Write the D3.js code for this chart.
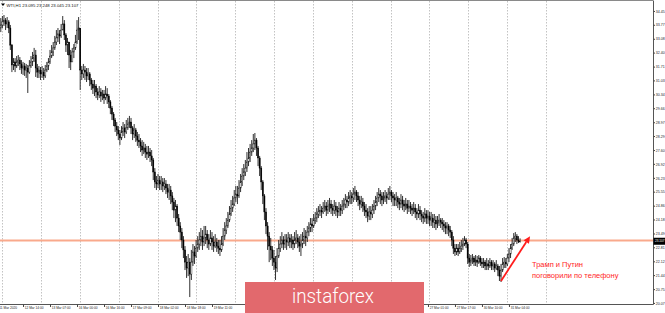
<!DOCTYPE html>
<html>
<head>
<meta charset="utf-8">
<script src="https://cdnjs.cloudflare.com/ajax/libs/d3/7.8.5/d3.min.js"></script>
<style>
  body { margin: 0; background: #fff; }
  svg { display: block; }
</style>
</head>
<body>
<div id="chart"></div>
<script>
// WTI H1 closes / highs / lows (one value per hourly bar)
var closes = [
  33.76,33.91,34.00,33.81,33.91,33.61,32.77,31.79,31.94,31.74,
  31.94,32.03,31.84,31.64,31.74,31.54,31.64,31.44,31.74,31.94,
  32.13,32.28,31.64,31.44,31.54,31.35,31.44,31.25,31.54,31.74,
  31.94,32.23,32.43,32.63,32.92,33.12,33.32,33.22,33.51,33.81,
  33.27,32.77,32.92,32.28,31.94,32.43,32.63,32.92,33.51,33.61,
  31.54,31.35,31.54,31.44,31.25,31.35,31.05,30.85,30.65,30.75,
  30.46,30.31,30.46,30.26,30.36,30.16,30.36,30.26,29.97,29.67,
  29.37,29.08,28.78,28.59,28.39,28.19,28.49,28.69,28.49,28.69,
  28.88,28.98,28.69,28.39,28.59,28.29,28.09,28.00,27.80,27.60,
  27.70,27.50,27.40,27.50,27.31,27.11,26.52,26.03,25.93,26.12,
  25.93,26.03,25.83,25.93,25.73,25.53,25.63,25.34,25.04,24.64,
  24.84,24.25,23.86,23.56,23.17,22.68,22.08,21.79,22.08,21.49,
  22.08,22.58,22.38,22.77,22.97,23.17,23.36,23.07,23.27,23.46,
  23.17,22.97,23.27,23.07,22.87,23.07,22.87,22.77,22.68,22.97,
  23.36,23.66,23.86,24.15,24.45,24.74,24.94,25.24,25.43,25.34,
  25.73,26.03,26.32,26.52,26.71,27.01,27.21,27.50,27.70,27.90,
  28.09,27.70,27.21,26.71,26.03,25.34,24.55,23.86,23.36,22.87,
  22.68,22.28,22.08,21.79,22.38,22.77,22.97,23.17,22.97,23.17,
  23.07,23.27,23.07,23.17,22.97,23.17,23.27,23.07,22.87,22.97,
  23.17,23.36,23.27,23.56,23.76,23.96,23.86,24.15,24.25,24.45,
  24.55,24.64,24.55,24.74,24.84,24.64,24.84,24.94,24.74,24.64,
  24.84,24.64,24.55,24.74,24.64,24.84,24.94,25.14,25.04,25.24,
  25.34,25.24,25.43,25.53,25.34,25.14,24.94,25.04,24.84,24.64,
  24.55,24.35,24.55,24.45,24.64,24.84,25.04,25.24,25.43,25.34,
  25.14,25.24,25.34,25.24,25.43,25.53,25.34,25.24,25.14,25.24,
  25.04,24.94,25.14,24.94,24.84,24.94,24.74,24.84,24.74,24.64,
  24.74,24.55,24.45,24.64,24.45,24.35,24.25,24.45,24.25,24.35,
  24.15,24.25,24.05,24.15,23.96,24.05,24.15,24.05,23.96,23.86,
  23.76,23.86,23.66,23.56,23.17,22.77,22.58,22.77,22.58,22.77,
  22.87,22.97,23.17,22.97,22.28,22.08,22.18,22.28,22.08,22.18,
  22.08,22.28,22.08,21.99,22.08,21.89,21.99,21.89,22.08,21.89,
  21.99,21.79,21.89,21.69,21.39,21.69,21.99,22.08,21.99,22.28,
  22.48,22.77,22.97,23.27,23.36,23.17,23.095,23.107
];
var highs = [
  34.10,34.20,34.25,34.10,34.15,34.00,33.76,32.82,32.13,32.13,
  32.23,32.28,32.18,32.03,31.94,31.89,31.84,31.79,32.03,32.23,
  32.43,32.63,32.53,31.84,31.74,31.69,31.74,31.64,31.79,31.94,
  32.13,32.53,32.77,32.92,33.22,33.51,33.61,33.51,33.81,34.20,
  34.00,33.36,33.12,32.92,32.53,32.63,32.82,33.27,34.00,34.15,
  33.61,31.74,31.84,31.74,31.64,31.64,31.44,31.15,31.05,31.05,
  30.85,30.65,30.75,30.65,30.56,30.56,30.75,30.65,30.36,30.06,
  29.77,29.47,29.18,28.98,28.78,28.59,28.78,28.98,28.88,29.08,
  29.18,29.28,29.18,28.78,28.88,28.69,28.49,28.39,28.19,28.09,
  28.00,27.90,27.80,27.80,27.70,27.60,27.21,26.71,26.32,26.42,
  26.32,26.32,26.22,26.22,26.12,25.93,25.93,25.83,25.53,25.24,
  25.14,24.94,24.45,24.05,23.76,23.36,22.87,22.38,22.48,22.28,
  22.68,22.97,22.87,23.17,23.36,23.56,23.76,23.66,23.86,23.86,
  23.66,23.46,23.66,23.56,23.36,23.46,23.27,23.17,23.17,23.36,
  23.76,24.05,24.25,24.55,24.84,25.14,25.34,25.63,25.83,25.83,
  26.12,26.42,26.71,26.91,27.11,27.50,27.70,27.90,28.09,28.39,
  28.44,28.19,27.80,27.31,26.81,26.12,25.43,24.74,24.05,23.56,
  23.27,22.87,22.68,22.38,22.77,23.17,23.36,23.56,23.36,23.46,
  23.46,23.56,23.46,23.46,23.36,23.56,23.66,23.46,23.36,23.46,
  23.56,23.76,23.66,23.86,24.05,24.25,24.25,24.45,24.55,24.74,
  24.84,24.94,24.84,25.04,25.14,25.04,25.14,25.24,25.14,24.94,
  25.14,25.04,24.84,25.04,24.94,25.14,25.24,25.43,25.34,25.53,
  25.63,25.53,25.73,25.83,25.63,25.53,25.34,25.34,25.24,25.04,
  24.94,24.74,24.84,24.84,24.94,25.14,25.34,25.53,25.73,25.63,
  25.53,25.53,25.63,25.53,25.73,25.83,25.63,25.53,25.43,25.53,
  25.34,25.24,25.43,25.34,25.14,25.24,25.14,25.14,25.04,24.94,
  25.04,24.94,24.74,24.94,24.84,24.64,24.55,24.74,24.64,24.64,
  24.55,24.55,24.45,24.45,24.35,24.35,24.45,24.25,24.25,24.15,
  24.05,24.05,23.96,23.86,23.66,23.36,22.97,22.97,22.97,23.07,
  23.17,23.27,23.36,23.27,23.07,22.48,22.43,22.48,22.38,22.43,
  22.38,22.43,22.38,22.28,22.28,22.18,22.28,22.18,22.28,22.18,
  22.18,22.08,22.18,21.99,21.89,21.99,22.28,22.33,22.28,22.48,
  22.77,22.97,23.27,23.51,23.56,23.46,23.36,23.248
];
var lows = [
  33.41,33.61,33.71,33.51,33.61,33.36,32.53,31.44,31.54,31.44,
  31.64,31.74,31.54,31.35,31.30,31.25,31.15,30.41,31.35,31.64,
  31.74,31.94,31.20,31.15,31.15,31.05,31.15,31.05,31.15,31.44,
  31.54,31.84,32.13,32.23,32.53,32.77,32.92,32.82,33.12,33.51,
  33.02,32.43,32.28,31.64,31.54,32.03,32.13,32.53,32.82,33.02,
  30.56,31.05,31.15,31.05,30.95,31.05,30.75,30.56,30.36,30.26,
  30.16,30.06,30.16,29.97,30.06,29.87,30.06,29.87,29.67,29.37,
  29.08,28.78,28.49,28.29,28.09,27.85,28.09,28.29,28.19,28.39,
  28.59,28.69,28.39,28.09,28.19,28.00,27.80,27.70,27.50,27.31,
  27.40,27.21,27.11,27.21,27.01,26.81,26.12,25.73,25.63,25.73,
  25.63,25.63,25.53,25.63,25.43,25.24,25.14,24.94,24.64,24.25,
  24.05,23.86,23.56,23.17,22.77,22.28,21.69,21.30,21.39,20.36,
  21.20,21.89,21.99,22.28,22.58,22.68,22.87,22.68,22.87,22.97,
  22.77,22.68,22.87,22.68,22.58,22.77,22.58,22.48,22.38,22.58,
  22.87,23.17,23.46,23.76,24.05,24.35,24.55,24.84,25.04,24.94,
  25.24,25.53,25.83,26.12,26.32,26.52,26.81,27.01,27.31,27.50,
  27.60,27.31,26.81,26.32,25.63,24.94,24.15,23.46,22.68,22.08,
  22.18,21.89,21.69,21.20,21.59,22.28,22.58,22.77,22.68,22.77,
  22.68,22.87,22.77,22.77,22.68,22.77,22.97,22.77,22.58,22.38,
  22.77,22.97,22.87,23.07,23.36,23.56,23.56,23.76,23.96,24.05,
  24.25,24.35,24.25,24.45,24.55,24.35,24.45,24.55,24.45,24.35,
  24.45,24.35,24.25,24.35,24.35,24.45,24.64,24.74,24.74,24.84,
  24.94,24.94,25.04,25.14,25.04,24.84,24.64,24.74,24.55,24.35,
  24.25,24.05,24.15,24.15,24.25,24.45,24.64,24.84,25.04,24.94,
  24.84,24.94,25.04,24.94,25.14,25.14,25.04,24.84,24.84,24.84,
  24.74,24.64,24.74,24.64,24.55,24.64,24.45,24.55,24.45,24.35,
  24.45,24.25,24.15,24.25,24.15,24.05,23.96,24.05,23.96,23.96,
  23.86,23.86,23.76,23.76,23.66,23.76,23.86,23.76,23.66,23.56,
  23.46,23.46,23.36,23.27,22.87,22.48,22.38,22.43,22.38,22.48,
  22.58,22.68,22.87,22.77,21.99,21.84,21.89,21.99,21.89,21.89,
  21.84,21.99,21.89,21.79,21.79,21.69,21.69,21.69,21.79,21.69,
  21.69,21.59,21.69,21.39,21.15,21.10,21.59,21.79,21.79,21.89,
  22.08,22.28,22.68,22.87,23.07,22.97,23.02,23.045
];
var firstOpen = 33.61;

// price axis labels (right side)
var priceTicks = [34.45,33.77,33.08,32.40,31.71,31.03,30.34,29.66,28.97,28.29,27.60,
                  26.92,26.23,25.55,24.86,24.18,23.49,22.81,22.12,21.44,20.75,20.07];

// time axis labels and the bar each one sits on (the ones under the logo are not shown)
var timeLabels = ["11 Mar 2020","12 Mar 14:00","13 Mar 07:00","16 Mar 00:00","16 Mar 16:00","17 Mar 09:00",
                  "18 Mar 02:00","18 Mar 18:00","19 Mar 11:00","27 Mar 01:00","27 Mar 17:00",
                  "30 Mar 10:00","31 Mar 04:00"];
var timeLabelBars = [-2,14,31,48,65,82,99,116,133,269,286,303,320];

var header = "WTI,H1  23.095 23.248 23.045 23.107";
var levelPrice = 23.15;      // orange horizontal level
var lastPrice = 23.107;
var noteLines = ["Трамп и Путин", "поговорили по телефону"];
var arrowFrom = { bar: 315, price: 21.15 };
var arrowTo = { bar: 333.3, price: 23.36 };

// set the dimensions of the graph
var W = 665, H = 313,
  plotRight = 653,
  plotBottom = 304;

var svg = d3.select("#chart")
  .append("svg")
  .attr("width", W)
  .attr("height", H);

// scales
var x = d3.scaleLinear()
  .domain([0, closes.length - 1])
  .range([0.8, 0.8 + 1.588 * (closes.length - 1)]);

var y = d3.scaleLinear()
  .domain([20.017, 34.99])
  .range([plotBottom, 0]);

// vertical dotted grid
var gridBars = d3.range(15).map(function (k) { return 0.85 + 24.46 * k; });
svg.append("g")
  .selectAll("line")
  .data(gridBars)
  .enter()
  .append("line")
  .attr("x1", function (d) { return Math.round(x(d)) + 0.5; })
  .attr("x2", function (d) { return Math.round(x(d)) + 0.5; })
  .attr("y1", 1)
  .attr("y2", plotBottom)
  .style("stroke", "#b4b4b4")
  .style("stroke-width", 0.8)
  .style("stroke-dasharray", "1.5,1.5");

// orange level line
svg.append("line")
  .attr("x1", 0)
  .attr("x2", plotRight)
  .attr("y1", y(levelPrice))
  .attr("y2", y(levelPrice))
  .style("stroke", "#f9a98c")
  .style("stroke-width", 2);

// build the candles
var bars = closes.map(function (c, i) {
  var o = i === 0 ? firstOpen : closes[i - 1];
  return { i: i, o: o, c: c, h: Math.max(highs[i], o, c), l: Math.min(lows[i], o, c) };
});

var candles = svg.append("g").selectAll("g")
  .data(bars)
  .enter()
  .append("g");

candles.append("line")
  .attr("x1", function (d) { return x(d.i); })
  .attr("x2", function (d) { return x(d.i); })
  .attr("y1", function (d) { return y(d.h); })
  .attr("y2", function (d) { return y(d.l); })
  .style("stroke", "#1a1a1a")
  .style("stroke-width", 0.9);

candles.append("rect")
  .attr("x", function (d) { return x(d.i) - 0.6; })
  .attr("width", 1.2)
  .attr("y", function (d) { return y(Math.max(d.o, d.c)); })
  .attr("height", function (d) { return Math.max(0.6, y(Math.min(d.o, d.c)) - y(Math.max(d.o, d.c))); })
  .style("fill", function (d) { return d.c < d.o ? "#000" : "#fff"; })
  .style("stroke", "#000")
  .style("stroke-width", 0.4);

// frame
svg.append("line").attr("x1", 0).attr("x2", plotRight).attr("y1", 0.5).attr("y2", 0.5)
  .style("stroke", "#8a8a8a").style("stroke-width", 1);

// price axis on the right
var yAxis = svg.append("g")
  .attr("transform", "translate(" + (plotRight + 0.5) + ",0)")
  .call(d3.axisRight(y).tickValues(priceTicks).tickSize(1.5).tickPadding(0.8).tickFormat(d3.format(".2f")));
yAxis.select(".domain").attr("d", "M0,0.5V" + (plotBottom + 0.5)).style("stroke", "#555");
yAxis.selectAll(".tick line").style("stroke", "#444");
yAxis.selectAll("text")
  .style("font-family", "'Liberation Sans', Arial, sans-serif")
  .style("font-size", "3.6px")
  .style("fill", "#222");

// time axis at the bottom
var xAxis = svg.append("g")
  .attr("transform", "translate(0," + (plotBottom + 0.5) + ")")
  .call(d3.axisBottom(x).tickValues(timeLabelBars).tickSize(2.5)
    .tickFormat(function (d, i) { return timeLabels[i]; }));
xAxis.select(".domain").attr("d", "M0,0H" + (plotRight + 0.5)).style("stroke", "#555");
xAxis.selectAll(".tick line").style("stroke", "#444");
xAxis.selectAll("text")
  .attr("y", 4.6)
  .attr("dy", 0)
  .attr("x", 1.2)
  .style("text-anchor", "start")
  .style("font-family", "'Liberation Sans', Arial, sans-serif")
  .style("font-size", "3.2px")
  .style("fill", "#222");

// current price marker
svg.append("rect")
  .attr("x", plotRight + 0.5)
  .attr("y", y(lastPrice) - 3.5)
  .attr("width", W - plotRight)
  .attr("height", 7)
  .style("fill", "#000");
svg.append("text")
  .attr("x", plotRight + 2)
  .attr("y", y(lastPrice) + 1.2)
  .text(d3.format(".3f")(lastPrice))
  .style("font-family", "'Liberation Sans', Arial, sans-serif")
  .style("font-size", "3.1px")
  .style("fill", "#fff");

// header
svg.append("path")
  .attr("d", "M1,3.5 L5,3.5 L3,6 Z")
  .style("fill", "#000");
svg.append("text")
  .attr("x", 6.5)
  .attr("y", 6.6)
  .text(header)
  .style("font-family", "'Liberation Sans', Arial, sans-serif")
  .style("font-size", "4.3px")
  .style("fill", "#111");

// red arrow
var ax1 = x(arrowFrom.bar), ay1 = y(arrowFrom.price),
  ax2 = x(arrowTo.bar), ay2 = y(arrowTo.price);
var ang = Math.atan2(ay2 - ay1, ax2 - ax1);
var headLen = 7, headW = 3.2;
var bx = ax2 - headLen * Math.cos(ang), by = ay2 - headLen * Math.sin(ang);
svg.append("line")
  .attr("x1", ax1).attr("y1", ay1)
  .attr("x2", bx).attr("y2", by)
  .style("stroke", "#ff1c1c")
  .style("stroke-width", 1.8);
svg.append("path")
  .attr("d", "M" + ax2 + "," + ay2 +
    "L" + (bx + headW * Math.sin(ang)) + "," + (by - headW * Math.cos(ang)) +
    "L" + (bx - headW * Math.sin(ang)) + "," + (by + headW * Math.cos(ang)) + "Z")
  .style("fill", "#ff1c1c");

// annotation text
svg.append("g")
  .selectAll("text")
  .data(noteLines)
  .enter()
  .append("text")
  .attr("x", 532)
  .attr("y", function (d, i) { return 266.5 + i * 11; })
  .text(function (d) { return d; })
  .style("font-family", "'Liberation Sans', Arial, sans-serif")
  .style("font-size", "7.5px")
  .style("fill", "#ff2626");

// instaforex watermark
svg.append("rect")
  .attr("x", 245)
  .attr("y", 282)
  .attr("width", 179)
  .attr("height", 31)
  .style("fill", "#e2696d");
svg.append("text")
  .attr("x", 333)
  .attr("y", 303.3)
  .attr("text-anchor", "middle")
  .attr("textLength", 82)
  .attr("lengthAdjust", "spacingAndGlyphs")
  .text("instaforex")
  .style("font-family", "Roboto, 'Open Sans', sans-serif")
  .style("font-weight", 300)
  .style("font-size", "20px")
  .style("fill", "#fff");
</script>
</body>
</html>
